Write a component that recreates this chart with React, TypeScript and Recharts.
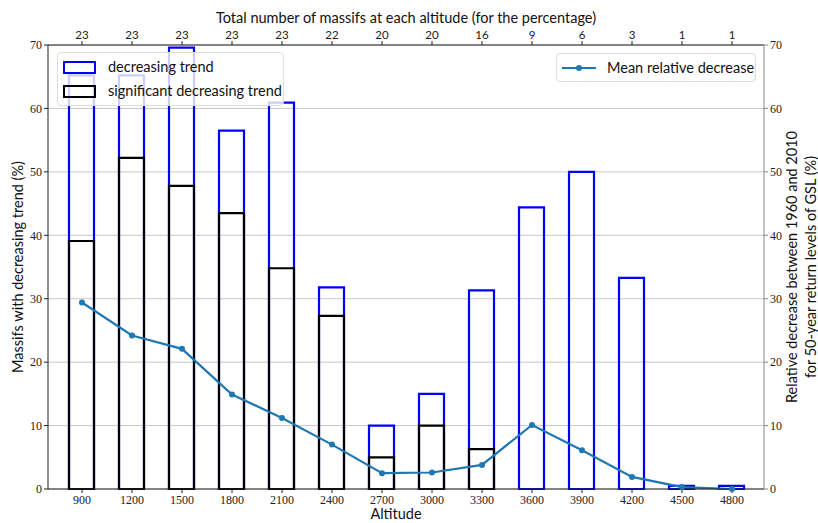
import React from "react";
import {
  ComposedChart,
  Bar,
  Line,
  XAxis,
  YAxis,
  CartesianGrid,
  Label,
} from "recharts";

const altitudes = [900, 1200, 1500, 1800, 2100, 2400, 2700, 3000, 3300, 3600, 3900, 4200, 4500, 4800];
const massifCounts = [23, 23, 23, 23, 23, 22, 20, 20, 16, 9, 6, 3, 1, 1];
const decreasingTrend = [65.2, 65.2, 69.6, 56.5, 60.9, 31.8, 10, 15, 31.3, 44.4, 50, 33.3, 0.5, 0.5];
const significantTrend = [39.1, 52.2, 47.8, 43.5, 34.8, 27.3, 5, 10, 6.3, 0, 0, 0, 0, 0];
const meanRelativeDecrease = [29.4, 24.2, 22.1, 14.9, 11.2, 7.0, 2.5, 2.6, 3.8, 10.1, 6.1, 1.9, 0.3, 0.0];
const yTicks = [0, 10, 20, 30, 40, 50, 60, 70];

const data = altitudes.map((a, i) => ({
  altitude: a,
  count: massifCounts[i],
  decreasing: decreasingTrend[i],
  significant: significantTrend[i],
  mean: meanRelativeDecrease[i],
}));

const countByAlt: Record<number, number> = {};
altitudes.forEach((a, i) => (countByAlt[a] = massifCounts[i]));

const SERIF = "'Liberation Serif', 'DejaVu Serif', serif";
const SANS = "Lato, 'Open Sans', sans-serif";

export default function App() {
  return (
    <div style={{ position: "absolute", left: 0, top: 0, width: 818, height: 523, background: "#fff" }}>
      <ComposedChart width={818} height={523} data={data} margin={{ top: 0, right: 0, bottom: 0, left: 0 }}>
        <CartesianGrid yAxisId="left" xAxisId="bottom" horizontal vertical={false} stroke="#c8c8c8" strokeWidth={1} />
        <XAxis
          xAxisId="bottom"
          dataKey="altitude"
          type="number"
          domain={[696, 4992]}
          ticks={altitudes}
          height={34}
          tickSize={4}
          stroke="#222"
          tick={{ fontFamily: SERIF, fontSize: 12, fill: "#222" }}
          interval={0}
        >
          <Label value="Altitude" position="insideBottom" offset={4} dx={-10} style={{ fontFamily: SANS, fontSize: 14.5, fill: "#111" }} />
        </XAxis>
        <XAxis
          xAxisId="top"
          orientation="top"
          dataKey="altitude"
          type="number"
          domain={[696, 4992]}
          ticks={altitudes}
          height={45}
          tickSize={4}
          stroke="#222"
          interval={0}
          tickFormatter={(v: number) => String(countByAlt[v] ?? "")}
          tick={{ fontFamily: SANS, fontSize: 11.5, fill: "#222" }}
        >
          <Label
            value="Total number of massifs at each altitude (for the percentage)"
            position="insideTop"
            offset={13}
            style={{ fontFamily: SANS, fontSize: 14.5, fill: "#111" }}
          />
        </XAxis>
        <YAxis
          yAxisId="left"
          orientation="left"
          domain={[0, 70]}
          ticks={yTicks}
          width={48}
          tickSize={4}
          stroke="#222"
          tick={{ fontFamily: SERIF, fontSize: 12, fill: "#222" }}
          interval={0}
        >
          <Label
            value="Massifs with decreasing trend (%)"
            angle={-90}
            position="center"
            dx={-6}
            style={{ fontFamily: SANS, fontSize: 14.5, fill: "#111", textAnchor: "middle" }}
          />
        </YAxis>
        <YAxis
          yAxisId="right"
          orientation="right"
          domain={[0, 70]}
          ticks={yTicks}
          width={54}
          tickSize={4}
          stroke="#888"
          tick={{ fontFamily: SERIF, fontSize: 12, fill: "#222" }}
          interval={0}
        >
          <Label
            value="Relative decrease between 1960 and 2010"
            angle={-90}
            position="center"
            dx={1}
            style={{ fontFamily: SANS, fontSize: 14.5, fill: "#111", textAnchor: "middle" }}
          />
          <Label
            value="for 50-year return levels of GSL (%)"
            angle={-90}
            position="center"
            dx={20}
            style={{ fontFamily: SANS, fontSize: 14.5, fill: "#111", textAnchor: "middle" }}
          />
        </YAxis>
        <Bar
          xAxisId="bottom"
          yAxisId="left"
          dataKey="decreasing"
          barSize={25}
          fill="none"
          stroke="#0000ff"
          strokeWidth={2.2}
          isAnimationActive={false}
        />
        <Bar
          xAxisId="top"
          yAxisId="left"
          dataKey="significant"
          barSize={25}
          fill="none"
          stroke="#000"
          strokeWidth={2.2}
          isAnimationActive={false}
        />
        <Line
          xAxisId="bottom"
          yAxisId="right"
          dataKey="mean"
          type="linear"
          stroke="#1f77b4"
          strokeWidth={2.2}
          dot={{ r: 3, fill: "#1f77b4", stroke: "#1f77b4", strokeWidth: 0 }}
          isAnimationActive={false}
        />
      </ComposedChart>
      <div
        style={{
          position: "absolute",
          left: 57,
          top: 52,
          width: 227,
          height: 54,
          boxSizing: "border-box",
          border: "1px solid #ddd",
          borderRadius: 4,
          background: "rgba(255,255,255,0.8)",
          fontFamily: SANS,
          fontSize: 14.5,
          color: "#111",
        }}
      >
        <div style={{ position: "absolute", left: 5, top: 8, width: 29, height: 9, border: "2px solid #0000ff" }} />
        <div style={{ position: "absolute", left: 50, top: 5, whiteSpace: "nowrap", lineHeight: "18px" }}>decreasing trend</div>
        <div style={{ position: "absolute", left: 5, top: 32, width: 29, height: 9, border: "2px solid #000" }} />
        <div style={{ position: "absolute", left: 50, top: 29, whiteSpace: "nowrap", lineHeight: "18px" }}>significant decreasing trend</div>
      </div>
      <div
        style={{
          position: "absolute",
          left: 556,
          top: 53,
          width: 200,
          height: 29,
          boxSizing: "border-box",
          border: "1px solid #ddd",
          borderRadius: 4,
          background: "rgba(255,255,255,0.8)",
          fontFamily: SANS,
          fontSize: 14.5,
          color: "#111",
        }}
      >
        <div style={{ position: "absolute", left: 5, top: 13, width: 34, height: 2, background: "#1f77b4" }} />
        <div style={{ position: "absolute", left: 19, top: 11, width: 6, height: 6, borderRadius: 3, background: "#1f77b4" }} />
        <div style={{ position: "absolute", left: 50, top: 5, whiteSpace: "nowrap", lineHeight: "18px" }}>Mean relative decrease</div>
      </div>
    </div>
  );
}
